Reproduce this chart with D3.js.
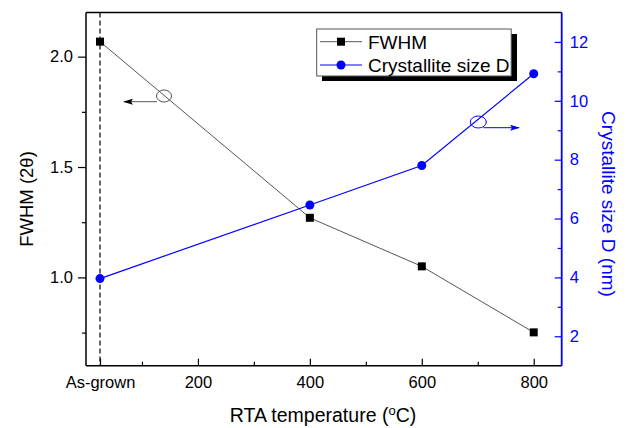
<!DOCTYPE html>
<html><head><meta charset="utf-8">
<script src="https://cdn.jsdelivr.net/npm/d3@7"></script>
<style>body{margin:0;background:#fff;}svg{display:block;font-family:"Liberation Sans",Arial,sans-serif;}</style>
</head><body>
<script>
const temps = [25, 400, 600, 800];
const xTickValues = [25, 200, 400, 600, 800];
const xTickLabels = ["As-grown", "200", "400", "600", "800"];
const fwhm = [2.068, 1.27, 1.05, 0.751];
const crystSize = [3.96, 6.46, 7.8, 10.92];
const leftTicks = [1.0, 1.5, 2.0];
const rightTicks = [2, 4, 6, 8, 10, 12];

const W = 626, H = 428;
const L = 86, R = 561.7, T = 12.5, B = 365.7;
const svg = d3.select("body").append("svg").attr("width", W).attr("height", H);

const x = d3.scaleLinear().domain([0, 850]).range([L, R]);
const yL = d3.scaleLinear().domain([0.6, 2.2]).range([B, T]);
const yR = d3.scaleLinear().domain([1, 13]).range([B, T]);
const blue = "#0000ff";
const FF = "Liberation Sans, Arial, sans-serif";

// frame top
svg.append("line").attr("x1", L).attr("x2", R).attr("y1", T).attr("y2", T).attr("stroke", "#000").attr("stroke-width", 1.5);

// dashed line at As-grown
svg.append("line").attr("x1", x(25)).attr("x2", x(25)).attr("y1", T).attr("y2", B)
  .attr("stroke", "#000").attr("stroke-width", 1.2).attr("stroke-dasharray", "5,3");

// bottom axis
const xAxis = svg.append("g").attr("transform", `translate(0,${B})`);
xAxis.call(d3.axisBottom(x).tickValues([100, 300, 500, 700]).tickSize(-4).tickFormat(""));
xAxis.call(g => g.append("g").call(d3.axisBottom(x).tickValues(xTickValues).tickSize(-7).tickFormat((d, i) => xTickLabels[i])));
xAxis.selectAll(".domain").remove();
xAxis.selectAll("line").attr("stroke", "#000").attr("stroke-width", 1.2);
xAxis.selectAll("text").attr("font-size", 16.5).attr("fill", "#000").attr("dy", null).attr("y", 22).attr("font-family", FF);
svg.append("line").attr("x1", L).attr("x2", R).attr("y1", B).attr("y2", B).attr("stroke", "#000").attr("stroke-width", 1.5);

// left axis
const lAxis = svg.append("g").attr("transform", `translate(${L},0)`);
lAxis.call(d3.axisLeft(yL).tickValues([0.75, 1.25, 1.75]).tickSize(4).tickFormat(""));
lAxis.call(g => g.append("g").call(d3.axisLeft(yL).tickValues(leftTicks).tickSize(8).tickPadding(5).tickFormat(d3.format(".1f"))));
lAxis.selectAll(".domain").remove();
lAxis.selectAll("line").attr("stroke", "#000").attr("stroke-width", 1.2);
lAxis.selectAll("text").attr("font-size", 16.5).attr("fill", "#000").attr("font-family", FF);
svg.append("line").attr("x1", L).attr("x2", L).attr("y1", T).attr("y2", B).attr("stroke", "#000").attr("stroke-width", 1.5);

// right axis
const rAxis = svg.append("g").attr("transform", `translate(${R},0)`);
rAxis.call(d3.axisRight(yR).tickValues([3, 5, 7, 9, 11]).tickSize(-4).tickFormat(""));
rAxis.call(g => g.append("g").call(d3.axisRight(yR).tickValues(rightTicks).tickSize(-7).tickPadding(9).tickFormat(d3.format("d"))));
rAxis.selectAll(".domain").remove();
rAxis.selectAll("line").attr("stroke", blue).attr("stroke-width", 1.2);
rAxis.selectAll("text").attr("font-size", 16.5).attr("fill", blue).attr("x", 8).attr("font-family", FF);
svg.append("line").attr("x1", R).attr("x2", R).attr("y1", T).attr("y2", B).attr("stroke", blue).attr("stroke-width", 1.8);

// FWHM series
const fData = temps.map((t, i) => [t, fwhm[i]]);
svg.append("path").datum(fData).attr("fill", "none").attr("stroke", "#555").attr("stroke-width", 1)
  .attr("d", d3.line().x(d => x(d[0])).y(d => yL(d[1])));
svg.selectAll(".sq").data(fData).enter().append("rect")
  .attr("x", d => x(d[0]) - 4).attr("y", d => yL(d[1]) - 4).attr("width", 8).attr("height", 8).attr("fill", "#000");

// D series
const dData = temps.map((t, i) => [t, crystSize[i]]);
svg.append("path").datum(dData).attr("fill", "none").attr("stroke", blue).attr("stroke-width", 1.2)
  .attr("d", d3.line().x(d => x(d[0])).y(d => yR(d[1])));
svg.selectAll(".ci").data(dData).enter().append("circle")
  .attr("cx", d => x(d[0])).attr("cy", d => yR(d[1])).attr("r", 4.5).attr("fill", blue);

// annotations
const defs = svg.append("defs");
function marker(id, color) {
  defs.append("marker").attr("id", id).attr("viewBox", "0 0 10 10").attr("refX", 9).attr("refY", 5)
    .attr("preserveAspectRatio", "none")
    .attr("markerWidth", 10).attr("markerHeight", 6).attr("markerUnits", "userSpaceOnUse").attr("orient", "auto")
    .append("path").attr("d", "M0,0 L10,5 L0,10 L2,5 Z").attr("fill", color);
}
marker("arrK", "#000");
marker("arrB", blue);
svg.append("ellipse").attr("cx", 164).attr("cy", 96).attr("rx", 7.5).attr("ry", 6).attr("fill", "none").attr("stroke", "#555").attr("stroke-width", 1);
svg.append("line").attr("x1", 157).attr("y1", 101.7).attr("x2", 124).attr("y2", 101.7).attr("stroke", "#555").attr("stroke-width", 1).attr("marker-end", "url(#arrK)");
svg.append("ellipse").attr("cx", 478.3).attr("cy", 122).attr("rx", 8).attr("ry", 6).attr("fill", "none").attr("stroke", blue).attr("stroke-width", 1);
svg.append("line").attr("x1", 483.5).attr("y1", 127.7).attr("x2", 519).attr("y2", 127.7).attr("stroke", blue).attr("stroke-width", 1).attr("marker-end", "url(#arrB)");

// legend
const lg = svg.append("g");
lg.append("rect").attr("x", 322).attr("y", 34).attr("width", 195).attr("height", 47).attr("fill", "#000");
lg.append("rect").attr("x", 316.7).attr("y", 29).attr("width", 194.5).attr("height", 47).attr("fill", "#fff").attr("stroke", "#555").attr("stroke-width", 1);
lg.append("line").attr("x1", 320).attr("x2", 362).attr("y1", 41.7).attr("y2", 41.7).attr("stroke", "#555").attr("stroke-width", 1);
lg.append("rect").attr("x", 337).attr("y", 37.7).attr("width", 8).attr("height", 8).attr("fill", "#000");
lg.append("text").attr("x", 368).attr("y", 48.5).attr("font-size", 19).text("FWHM");
lg.append("line").attr("x1", 320).attr("x2", 362).attr("y1", 65).attr("y2", 65).attr("stroke", blue).attr("stroke-width", 1.2);
lg.append("circle").attr("cx", 341).attr("cy", 65).attr("r", 4.5).attr("fill", blue);
lg.append("text").attr("x", 368).attr("y", 72).attr("font-size", 19).text("Crystallite size D");

// axis titles
svg.append("text").attr("transform", "translate(33,199) rotate(-90)").attr("text-anchor", "middle").attr("font-size", 18.5)
  .text("FWHM (2θ)");
svg.append("text").attr("transform", "translate(602,204) rotate(90)").attr("text-anchor", "middle").attr("font-size", 19).attr("fill", blue)
  .text("Crystallite size D (nm)");
const xt = svg.append("text").attr("x", 323).attr("y", 422).attr("text-anchor", "middle").attr("font-size", 19.5);
xt.append("tspan").text("RTA temperature (");
xt.append("tspan").attr("font-size", 13).attr("dy", -7).text("o");
xt.append("tspan").attr("dy", 7).text("C)");
</script>
</body></html>
